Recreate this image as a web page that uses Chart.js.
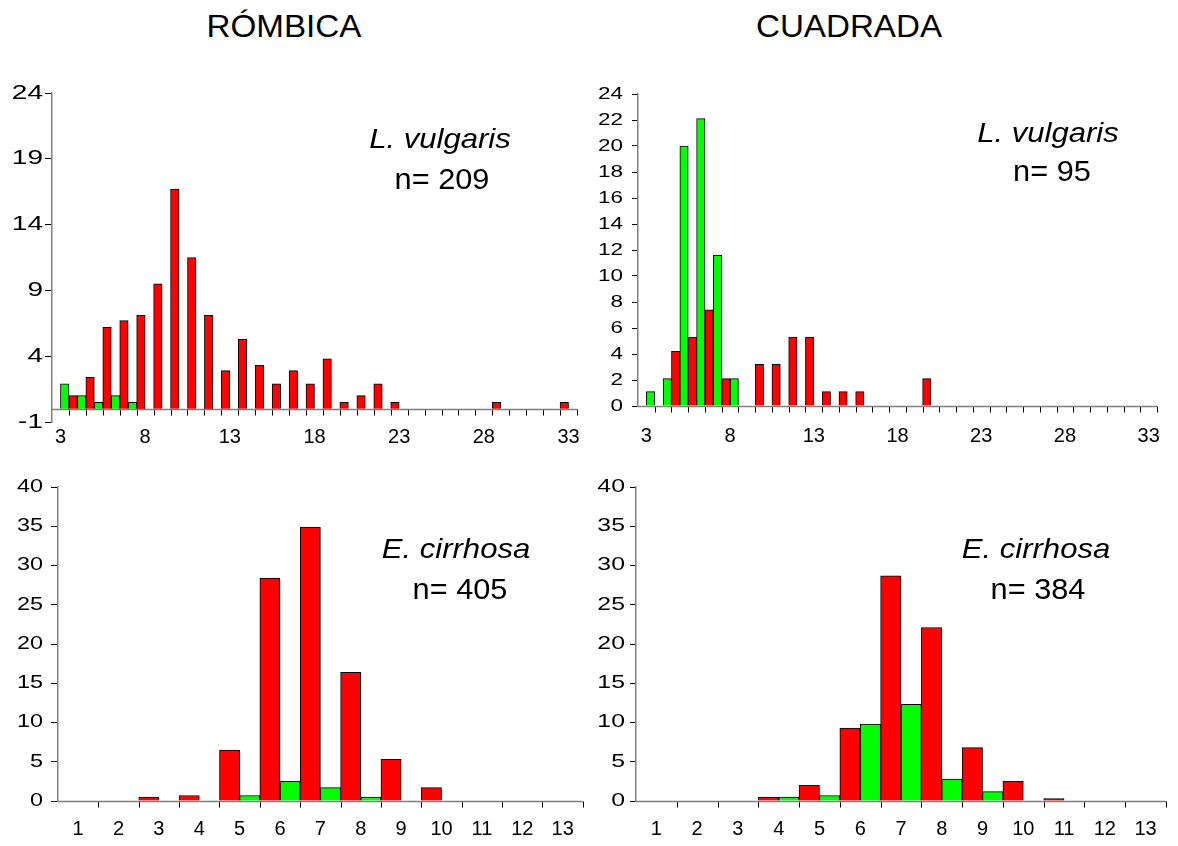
<html>
<head>
  <meta charset="UTF-8">
  <script src="https://cdnjs.cloudflare.com/ajax/libs/Chart.js/4.4.1/chart.umd.min.js"></script>
  <style>
    body {padding: 0; margin: 0; background: #fff;}
    #wrap {position: relative; width: 1178px; height: 846px; overflow: hidden; font-family: "Liberation Sans", Arial, sans-serif;}
    canvas {position: absolute;}
    .txt {position: absolute; white-space: nowrap; line-height: 1; color: #000;}
    .title {font-size: 31px; transform: translateX(-50%) scaleX(1.07);}
    .sp {font-size: 28px; font-style: italic; transform: translateX(-50%) scaleX(1.11);}
    .n {font-size: 29px; transform: translateX(-50%) scaleX(1.06);}
  </style>
</head>

<body>
<div id="wrap">
  <div class="txt title" style="left:284px;top:11px">RÓMBICA</div>
  <div class="txt title" style="left:849px;top:11px">CUADRADA</div>

  <canvas id="romVulgaris" width="590" height="400" style="left:0;top:60px"></canvas>
  <canvas id="cuaVulgaris" width="588" height="400" style="left:590px;top:60px"></canvas>
  <canvas id="romCirrhosa" width="590" height="386" style="left:0;top:460px"></canvas>
  <canvas id="cuaCirrhosa" width="588" height="386" style="left:590px;top:460px"></canvas>

  <div class="txt sp" style="left:440px;top:125px">L. vulgaris</div>
  <div class="txt n" style="left:442px;top:165px">n= 209</div>
  <div class="txt sp" style="left:1048px;top:119px">L. vulgaris</div>
  <div class="txt n" style="left:1052px;top:157px">n= 95</div>
  <div class="txt sp" style="left:456px;top:535px">E. cirrhosa</div>
  <div class="txt n" style="left:460px;top:575px">n= 405</div>
  <div class="txt sp" style="left:1036px;top:535px">E. cirrhosa</div>
  <div class="txt n" style="left:1038px;top:575px">n= 384</div>
</div>

<script>

var FONT = "'Liberation Sans', Arial, sans-serif";

// size classes (x axis)
var catsTop = [3, 4, 5, 6, 7, 8, 9, 10, 11, 12, 13, 14, 15, 16, 17, 18, 19, 20,
               21, 22, 23, 24, 25, 26, 27, 28, 29, 30, 31, 32, 33];
var catsBottom = [1, 2, 3, 4, 5, 6, 7, 8, 9, 10, 11, 12, 13];
var xLabelsTop = [3, 8, 13, 18, 23, 28, 33];
var xLabelsBottom = [1, 2, 3, 4, 5, 6, 7, 8, 9, 10, 11, 12, 13];

// y tick labels
var yTicksRomVulgaris = [-1, 4, 9, 14, 19, 24];
var yTicksCuaVulgaris = [0, 2, 4, 6, 8, 10, 12, 14, 16, 18, 20, 22, 24];
var yTicksCirrhosa = [0, 5, 10, 15, 20, 25, 30, 35, 40];

// % per size class, red and green series
var romVulgarisRed = [0, 1.0, 2.4, 6.2, 6.7, 7.1, 9.5, 16.7, 11.5, 7.1, 2.9, 5.3, 3.3, 1.9, 2.9, 1.9,
                      3.8, 0.5, 1.0, 1.9, 0.5, 0, 0, 0, 0, 0, 0.5, 0, 0, 0, 0.5];
var romVulgarisGreen = [1.9, 1.0, 0.5, 1.0, 0.5, 0, 0, 0, 0, 0, 0, 0, 0, 0, 0, 0,
                        0, 0, 0, 0, 0, 0, 0, 0, 0, 0, 0, 0, 0, 0, 0];

var cuaVulgarisRed = [0, 0, 4.2, 5.3, 7.4, 2.1, 0, 3.2, 3.2, 5.3, 5.3, 1.1, 1.1, 1.1, 0, 0,
                      0, 2.1, 0, 0, 0, 0, 0, 0, 0, 0, 0, 0, 0, 0, 0];
var cuaVulgarisGreen = [1.1, 2.1, 20.0, 22.1, 11.6, 2.1, 0, 0, 0, 0, 0, 0, 0, 0, 0, 0,
                        0, 0, 0, 0, 0, 0, 0, 0, 0, 0, 0, 0, 0, 0, 0];

var romCirrhosaRed = [0, 0, 0.5, 0.7, 6.5, 28.4, 34.9, 16.4, 5.3, 1.7, 0, 0, 0];
var romCirrhosaGreen = [0, 0, 0, 0, 0.7, 2.5, 1.7, 0.5, 0, 0, 0, 0, 0];

var cuaCirrhosaRed = [0, 0, 0, 0.5, 2.0, 9.3, 28.7, 22.1, 6.8, 2.5, 0.3, 0, 0];
var cuaCirrhosaGreen = [0, 0, 0, 0.5, 0.7, 9.8, 12.3, 2.8, 1.2, 0, 0, 0, 0];

// x axis line sits on y = 0 with small ticks between the classes;
// y labels are drawn a little wide, the way the old spreadsheet did
var axisDecor = {
  id: 'axisDecor',
  afterDatasetsDraw: function(chart) {
    var ctx = chart.ctx;
    var area = chart.chartArea;
    var y0 = Math.round(chart.scales.y.getPixelForValue(0)) + 0.5;
    var n = chart.data.labels.length;
    var step = (area.right - area.left) / n;
    ctx.save();
    ctx.strokeStyle = '#000';
    ctx.lineWidth = 1;
    ctx.beginPath();
    for (var i = 1; i <= n; i++) {
      var px = Math.round(area.left + i * step) + 0.5;
      ctx.moveTo(px, y0);
      ctx.lineTo(px, y0 + 6);
    }
    ctx.stroke();
    ctx.strokeStyle = '#808080';
    ctx.lineWidth = 1.5;
    ctx.beginPath();
    ctx.moveTo(area.left, y0);
    ctx.lineTo(area.right, y0);
    ctx.stroke();
    ctx.restore();
  },
  afterDraw: function(chart, args, opts) {
    var ctx = chart.ctx;
    var s = chart.scales.y;
    ctx.save();
    ctx.fillStyle = '#000';
    ctx.font = opts.yFont + 'px ' + FONT;
    ctx.textAlign = 'right';
    ctx.textBaseline = 'middle';
    s.ticks.forEach(function(t) {
      var label = t.label != null ? t.label : String(t.value);
      ctx.save();
      ctx.translate(chart.chartArea.left - opts.yGap, s.getPixelForValue(t.value));
      ctx.scale(opts.yStretch, 1);
      ctx.fillText(label, 0, 0);
      ctx.restore();
    });
    ctx.restore();
  }
};

function histogram(id, cats, red, green, yTicks, xShown, lay) {
  return new Chart(document.getElementById(id), {
    type: 'bar',
    data: {
      labels: cats,
      datasets: [
        {data: red, backgroundColor: '#ff0000', borderColor: '#000', borderWidth: 1},
        {data: green, backgroundColor: '#00ff00', borderColor: '#000', borderWidth: 1}
      ]
    },
    options: {
      responsive: false,
      animation: false,
      layout: {padding: {top: lay.top, right: lay.right, left: 0, bottom: 0}},
      datasets: {bar: {barPercentage: 1, categoryPercentage: 1}},
      plugins: {
        legend: {display: false},
        tooltip: {enabled: false},
        axisDecor: {yFont: lay.yFont, yStretch: lay.yStretch, yGap: lay.yGap}
      },
      scales: {
        x: {
          grid: {display: false, drawTicks: false},
          border: {display: false},
          ticks: {
            autoSkip: false, maxRotation: 0, padding: lay.xPad, color: '#000',
            font: {family: FONT, size: 20},
            callback: function(v, i) {
              return xShown.indexOf(cats[i]) >= 0 ? String(cats[i]) : '';
            }
          },
          afterFit: function(s) { s.height = lay.xH; }
        },
        y: {
          min: yTicks[0],
          max: yTicks[yTicks.length - 1],
          afterBuildTicks: function(s) {
            s.ticks = yTicks.map(function(v) { return {value: v}; });
          },
          grid: {drawOnChartArea: false, tickLength: lay.yTick, color: '#000'},
          border: {color: '#808080', width: 1.5},
          ticks: {display: false, autoSkip: false},
          afterFit: function(s) { s.width = lay.yW; }
        }
      }
    },
    plugins: [axisDecor]
  });
}

histogram('romVulgaris', catsTop, romVulgarisRed, romVulgarisGreen, yTicksRomVulgaris, xLabelsTop,
  {top: 33, right: 13, yW: 52, xH: 38, yFont: 20, yStretch: 1.4, yGap: 9, yTick: 7, xPad: 3});
histogram('cuaVulgaris', catsTop, cuaVulgarisRed, cuaVulgarisGreen, yTicksCuaVulgaris, xLabelsTop,
  {top: 34, right: 15, yW: 48, xH: 54, yFont: 17, yStretch: 1.32, yGap: 15, yTick: 6, xPad: 18});
histogram('romCirrhosa', catsBottom, romCirrhosaRed, romCirrhosaGreen, yTicksCirrhosa, xLabelsBottom,
  {top: 27, right: 6, yW: 58, xH: 45, yFont: 18, yStretch: 1.3, yGap: 15, yTick: 7, xPad: 16});
histogram('cuaCirrhosa', catsBottom, cuaCirrhosaRed, cuaCirrhosaGreen, yTicksCirrhosa, xLabelsBottom,
  {top: 27, right: 12, yW: 46, xH: 45, yFont: 18, yStretch: 1.38, yGap: 11, yTick: 6, xPad: 16});

</script>
</body>
</html>
